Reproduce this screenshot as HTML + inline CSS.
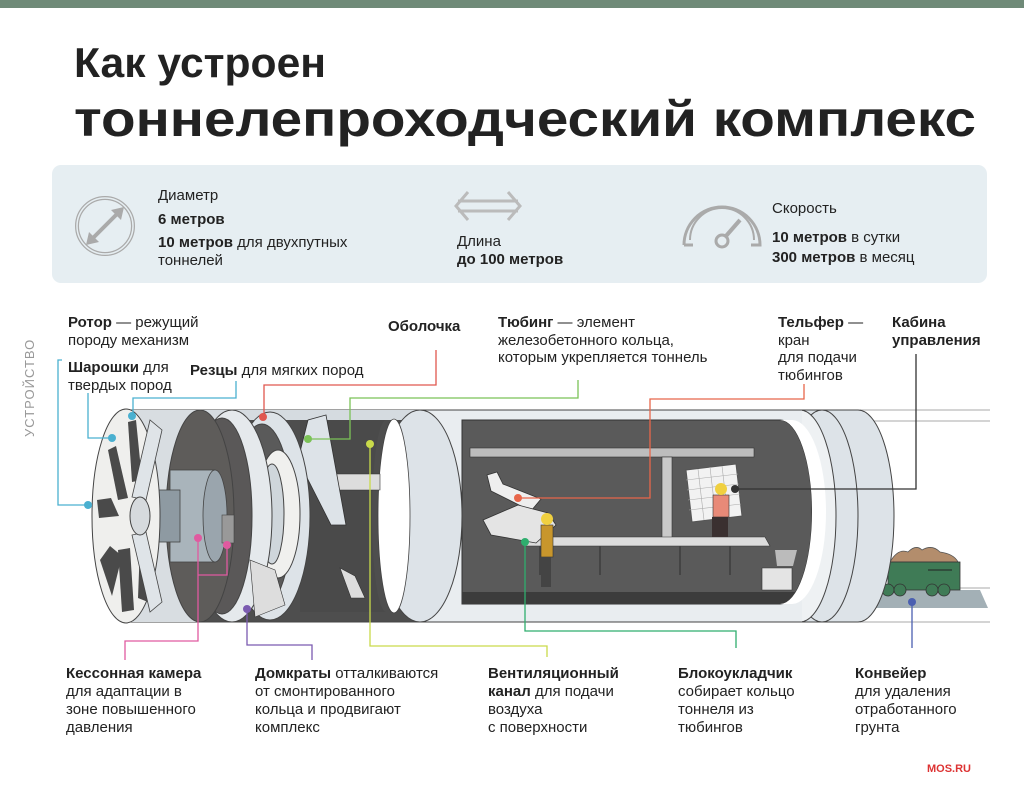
<!DOCTYPE html>
<html><head><meta charset="utf-8"><style>
html,body{margin:0;padding:0;background:#fff}
svg{display:block}
text{font-family:"Liberation Sans","DejaVu Sans",sans-serif;fill:#222}
.l{font-size:15px}
.b{font-weight:bold}
</style></head><body>
<svg width="1024" height="803" viewBox="0 0 1024 803" xmlns="http://www.w3.org/2000/svg">
<rect x="0" y="0" width="1024" height="8" fill="#6f8a78"/>
<text x="74" y="77" font-size="42" font-weight="bold" textLength="252" lengthAdjust="spacingAndGlyphs">Как устроен</text>
<text x="74" y="136" font-size="50" font-weight="bold" textLength="902" lengthAdjust="spacingAndGlyphs">тоннелепроходческий комплекс</text>

<rect x="52" y="165" width="935" height="118" rx="9" fill="#e6eef2"/>
<circle cx="105" cy="226" r="28" fill="none" stroke="#aaa" stroke-width="4"/>
<circle cx="105" cy="226" r="28" fill="none" stroke="#e6eef2" stroke-width="1.5"/>
<line x1="90" y1="241" x2="120" y2="211" stroke="#aaa" stroke-width="4"/>
<path d="M86 245 l3 -13 l10 10 z M124 207 l-3 13 l-10 -10 z" fill="#aaa"/>
<text x="158" y="200" class="l">Диаметр</text>
<text x="158" y="224" class="l b">6 метров</text>
<text x="158" y="247" class="l"><tspan class="b">10 метров</tspan> для двухпутных</text>
<text x="158" y="265" class="l">тоннелей</text>
<path d="M468 192 l-12 14 l12 14 M508 192 l12 14 l-12 14 M458 201 h60 M458 211 h60" fill="none" stroke="#bbb" stroke-width="3"/>
<text x="457" y="246" class="l">Длина</text>
<text x="457" y="264" class="l b">до 100 метров</text>
<path d="M684 245 a38 38 0 0 1 76 0 h-9 M684 245 h9" fill="none" stroke="#aaa" stroke-width="3"/>
<path d="M690 240 a32 32 0 0 1 64 0" fill="none" stroke="#aaa" stroke-width="2"/>
<circle cx="722" cy="241" r="6" fill="#e6eef2" stroke="#aaa" stroke-width="3"/>
<line x1="726" y1="236" x2="740" y2="220" stroke="#aaa" stroke-width="4"/>
<text x="772" y="213" class="l">Скорость</text>
<text x="772" y="242" class="l"><tspan class="b">10 метров</tspan> в сутки</text>
<text x="772" y="262" class="l"><tspan class="b">300 метров</tspan> в месяц</text>

<text transform="translate(34 437) rotate(-90)" font-size="13" style="fill:#999;letter-spacing:1px">УСТРОЙСТВО</text>

<text x="68" y="327" class="l"><tspan class="b">Ротор</tspan> — режущий</text>
<text x="68" y="345" class="l">породу механизм</text>
<text x="68" y="372" class="l"><tspan class="b">Шарошки</tspan> для</text>
<text x="68" y="390" class="l">твердых пород</text>
<text x="190" y="375" class="l"><tspan class="b">Резцы</tspan> для мягких пород</text>
<text x="388" y="331" class="l b">Оболочка</text>
<text x="498" y="327" class="l"><tspan class="b">Тюбинг</tspan> — элемент</text>
<text x="498" y="345" class="l">железобетонного кольца,</text>
<text x="498" y="362" class="l">которым укрепляется тоннель</text>
<text x="778" y="327" class="l"><tspan class="b">Тельфер</tspan> —</text>
<text x="778" y="345" class="l">кран</text>
<text x="778" y="362" class="l">для подачи</text>
<text x="778" y="380" class="l">тюбингов</text>
<text x="892" y="327" class="l b">Кабина</text>
<text x="892" y="345" class="l b">управления</text>

<g stroke="#bbb" stroke-width="1.2">
<line x1="860" y1="410" x2="990" y2="410"/><line x1="860" y1="421" x2="990" y2="421"/>
<line x1="860" y1="588" x2="990" y2="588"/><line x1="860" y1="622" x2="990" y2="622"/>
</g>
<path d="M870 590 h110 l8 18 h-118 z" fill="#a3b0b6"/>
<path d="M890 562 q8-14 18-10 q8-8 14-2 q10-6 18 2 q14 2 18 10 z" fill="#b38d6c" stroke="#555" stroke-width="0.8"/>
<rect x="888" y="562" width="72" height="28" fill="#3f7b56" stroke="#333" stroke-width="0.8"/>
<g fill="#3f7b56" stroke="#333" stroke-width="0.8"><circle cx="888" cy="590" r="6"/><circle cx="900" cy="590" r="6"/><circle cx="932" cy="590" r="6"/><circle cx="944" cy="590" r="6"/></g>
<line x1="928" y1="570" x2="952" y2="570" stroke="#222"/>

<ellipse cx="858" cy="516" rx="36" ry="106" fill="#dde3e8" stroke="#444" stroke-width="1"/>
<rect x="800" y="410" width="58" height="212" fill="#dde3e8"/>
<line x1="800" y1="410" x2="858" y2="410" stroke="#444"/><line x1="800" y1="622" x2="858" y2="622" stroke="#444"/>
<ellipse cx="822" cy="516" rx="36" ry="106" fill="#dde3e8" stroke="#444" stroke-width="1"/>
<ellipse cx="800" cy="516" rx="36" ry="106" fill="#eef1f3" stroke="#444" stroke-width="1"/>

<rect x="420" y="410" width="382" height="212" fill="#e9edf0"/>
<line x1="420" y1="410" x2="802" y2="410" stroke="#444"/><line x1="420" y1="622" x2="802" y2="622" stroke="#444"/>
<path d="M462 420 H780 A32 92 0 0 1 780 604 H462 Z" fill="#5a5a5a" stroke="#333"/>
<path d="M462 592 H800 L790 604 H462 Z" fill="#3c3c3c"/>
<path d="M780 420 A32 92 0 0 1 780 604 L792 604 A34 92 0 0 0 792 420 Z" fill="#fff"/>
<rect x="470" y="448" width="284" height="9" fill="#bdbdbd" stroke="#333" stroke-width="0.6"/>
<rect x="662" y="457" width="10" height="88" fill="#c9c9c9" stroke="#333" stroke-width="0.6"/>
<path d="M520 537 H765 L770 546 H525 Z" fill="#dcdcdc" stroke="#333" stroke-width="0.6"/>
<g stroke="#444" stroke-width="2"><line x1="540" y1="546" x2="540" y2="575"/><line x1="600" y1="546" x2="600" y2="575"/><line x1="680" y1="546" x2="680" y2="575"/><line x1="730" y1="546" x2="730" y2="575"/></g>
<path d="M487 475 l10-3 l6 12 l38 15 l-10 12 l-40-20 z" fill="#eee" stroke="#333" stroke-width="0.8"/>
<path d="M483 520 l35-15 l30 8 l8 12 l-20 18 l-45 -8 z" fill="#e4e4e4" stroke="#333" stroke-width="0.8"/>
<rect x="541" y="525" width="12" height="32" fill="#c8962c" stroke="#333" stroke-width="0.6"/>
<rect x="541" y="557" width="10" height="30" fill="#444"/>
<circle cx="547" cy="519" r="6" fill="#f0d040"/>
<path d="M686 470 l50 -6 l6 52 l-50 6 z" fill="#f2f2f2" stroke="#555" stroke-width="1"/>
<g stroke="#aaa" stroke-width="0.6"><line x1="686" y1="480" x2="738" y2="474"/><line x1="687" y1="490" x2="739" y2="484"/><line x1="688" y1="500" x2="740" y2="494"/><line x1="689" y1="510" x2="741" y2="504"/><line x1="698" y1="469" x2="704" y2="520"/><line x1="710" y1="467" x2="716" y2="519"/><line x1="722" y1="466" x2="728" y2="517"/></g>
<rect x="713" y="495" width="16" height="22" fill="#e88a78" stroke="#333" stroke-width="0.6"/>
<circle cx="721" cy="489" r="6" fill="#f0d040"/>
<rect x="712" y="517" width="16" height="20" fill="#3a3030"/>
<path d="M762 568 h30 v22 h-30 z" fill="#e4e4e4" stroke="#333" stroke-width="0.6"/>
<path d="M775 550 h22 l-4 16 h-16 z" fill="#bbb"/>

<rect x="126" y="410" width="300" height="212" fill="#4e4e4e"/>
<line x1="126" y1="410" x2="426" y2="410" stroke="#444"/><line x1="126" y1="622" x2="426" y2="622" stroke="#444"/>
<path d="M150 410 H420 V420 H150 Z" fill="#d5dbe0"/>
<ellipse cx="420" cy="516" rx="42" ry="106" fill="#dde3e8" stroke="#444"/>
<ellipse cx="394" cy="516" rx="16" ry="97" fill="#fff" stroke="#444" stroke-width="0.8"/>
<path d="M300 420 H386 A14 96 0 0 0 386 612 H300 Z" fill="#4a4a4a"/>
<path d="M320 474 h60 v16 h-60 z" fill="#ddd" stroke="#333" stroke-width="0.6"/>
<path d="M298 460 l10-40 l18 -5 l20 110 l-15 0 z" fill="#dde3e8" stroke="#333" stroke-width="0.8"/>
<path d="M340 568 l15 8 l10 22 h-14 z" fill="#ddd" stroke="#333" stroke-width="0.6"/>
<ellipse cx="270" cy="516" rx="40" ry="104" fill="#dde3e8" stroke="#444"/>
<ellipse cx="262" cy="516" rx="30" ry="92" fill="#5a5a5a" stroke="#444"/>
<ellipse cx="278" cy="514" rx="22" ry="64" fill="#f0f0ee" stroke="#444"/>
<ellipse cx="272" cy="514" rx="12" ry="50" fill="#cfd6db" stroke="#444"/>
<ellipse cx="232" cy="516" rx="40" ry="106" fill="#e5e9ec" stroke="#444"/>
<ellipse cx="222" cy="516" rx="30" ry="98" fill="#5a5858" stroke="#444"/>
<path d="M250 560 l25 10 l10 35 l-30 12 z" fill="#ddd" stroke="#333" stroke-width="0.6"/>
<path d="M126 410 H200 V622 H126 Z" fill="#d8dde1"/>
<ellipse cx="200" cy="516" rx="34" ry="106" fill="#5e5c5a" stroke="#444"/>
<rect x="170" y="470" width="45" height="92" fill="#a9b4bb" stroke="#444" stroke-width="0.8"/>
<ellipse cx="215" cy="516" rx="12" ry="46" fill="#9aa5ad" stroke="#444" stroke-width="0.8"/>
<rect x="150" y="490" width="30" height="52" fill="#8e9aa2" stroke="#444" stroke-width="0.8"/>
<rect x="222" y="515" width="12" height="28" fill="#999" stroke="#444" stroke-width="0.6"/>
<ellipse cx="126" cy="516" rx="34" ry="107" fill="#efefed" stroke="#444"/>
<g fill="#4a4a4a">
<path d="M128 422 l8 -2 l6 60 l-10 2 z"/>
<path d="M108 450 l8 -4 l12 52 l-10 2 z"/>
<path d="M97 500 l14 -2 l8 18 l-20 2 z"/>
<path d="M100 560 l10 -14 l12 10 l-10 40 z"/>
<path d="M118 550 l12 -2 l4 62 l-12 2 z"/>
<path d="M140 545 l10 2 l-2 55 l-10 -4 z"/>
</g>
<path d="M132 497 L150 420 L162 430 L146 500 Z M132 535 L150 612 L162 602 L146 532 Z" fill="#dfe4e8" stroke="#444" stroke-width="0.8"/>
<ellipse cx="140" cy="516" rx="10" ry="19" fill="#d6dadd" stroke="#444"/>

<g fill="none" stroke-width="1.3">
<path d="M62 360 H58 V505 H88" stroke="#4ab0d0"/>
<path d="M88 393 V438 H112" stroke="#4ab0d0"/>
<path d="M236 381 V398 H133 V416" stroke="#4ab0d0"/>
<path d="M436 350 V385 H264 V417" stroke="#e0574f"/>
<path d="M578 380 V398 H350 V439 H308" stroke="#7bc257"/>
<path d="M804 384 V399 H650 V498 H518" stroke="#e8664a"/>
<path d="M916 354 V489 H735" stroke="#333"/>
<path d="M198 538 V641 H125 V660 M227 545 V575 H198" stroke="#e05aa0"/>
<path d="M247 609 V645 H312 V660" stroke="#7b5bb0"/>
<path d="M370 444 V646 H547 V657" stroke="#c9da4a"/>
<path d="M525 542 V631 H736 V648" stroke="#2fae6e"/>
<path d="M912 602 V648" stroke="#4a5fb0"/>
</g>
<g>
<circle cx="88" cy="505" r="4" fill="#4ab0d0"/><circle cx="112" cy="438" r="4" fill="#4ab0d0"/><circle cx="132" cy="416" r="4" fill="#4ab0d0"/>
<circle cx="263" cy="417" r="4" fill="#e0574f"/><circle cx="308" cy="439" r="4" fill="#7bc257"/>
<circle cx="518" cy="498" r="4" fill="#e8664a"/><circle cx="735" cy="489" r="4" fill="#333"/>
<circle cx="198" cy="538" r="4" fill="#e05aa0"/><circle cx="227" cy="545" r="4" fill="#e05aa0"/>
<circle cx="247" cy="609" r="4" fill="#7b5bb0"/><circle cx="370" cy="444" r="4" fill="#c9da4a"/>
<circle cx="525" cy="542" r="4" fill="#2fae6e"/><circle cx="912" cy="602" r="4" fill="#4a5fb0"/>
</g>

<text x="66" y="678" class="l b">Кессонная камера</text>
<text x="66" y="696" class="l">для адаптации в</text>
<text x="66" y="714" class="l">зоне повышенного</text>
<text x="66" y="732" class="l">давления</text>
<text x="255" y="678" class="l"><tspan class="b">Домкраты</tspan> отталкиваются</text>
<text x="255" y="696" class="l">от смонтированного</text>
<text x="255" y="714" class="l">кольца и продвигают</text>
<text x="255" y="732" class="l">комплекс</text>
<text x="488" y="678" class="l b">Вентиляционный</text>
<text x="488" y="696" class="l"><tspan class="b">канал</tspan> для подачи</text>
<text x="488" y="714" class="l">воздуха</text>
<text x="488" y="732" class="l">с поверхности</text>
<text x="678" y="678" class="l b">Блокоукладчик</text>
<text x="678" y="696" class="l">собирает кольцо</text>
<text x="678" y="714" class="l">тоннеля из</text>
<text x="678" y="732" class="l">тюбингов</text>
<text x="855" y="678" class="l b">Конвейер</text>
<text x="855" y="696" class="l">для удаления</text>
<text x="855" y="714" class="l">отработанного</text>
<text x="855" y="732" class="l">грунта</text>
<text x="927" y="772" font-size="11" font-weight="bold" style="fill:#d33">MOS.RU</text>
</svg>
</body></html>
